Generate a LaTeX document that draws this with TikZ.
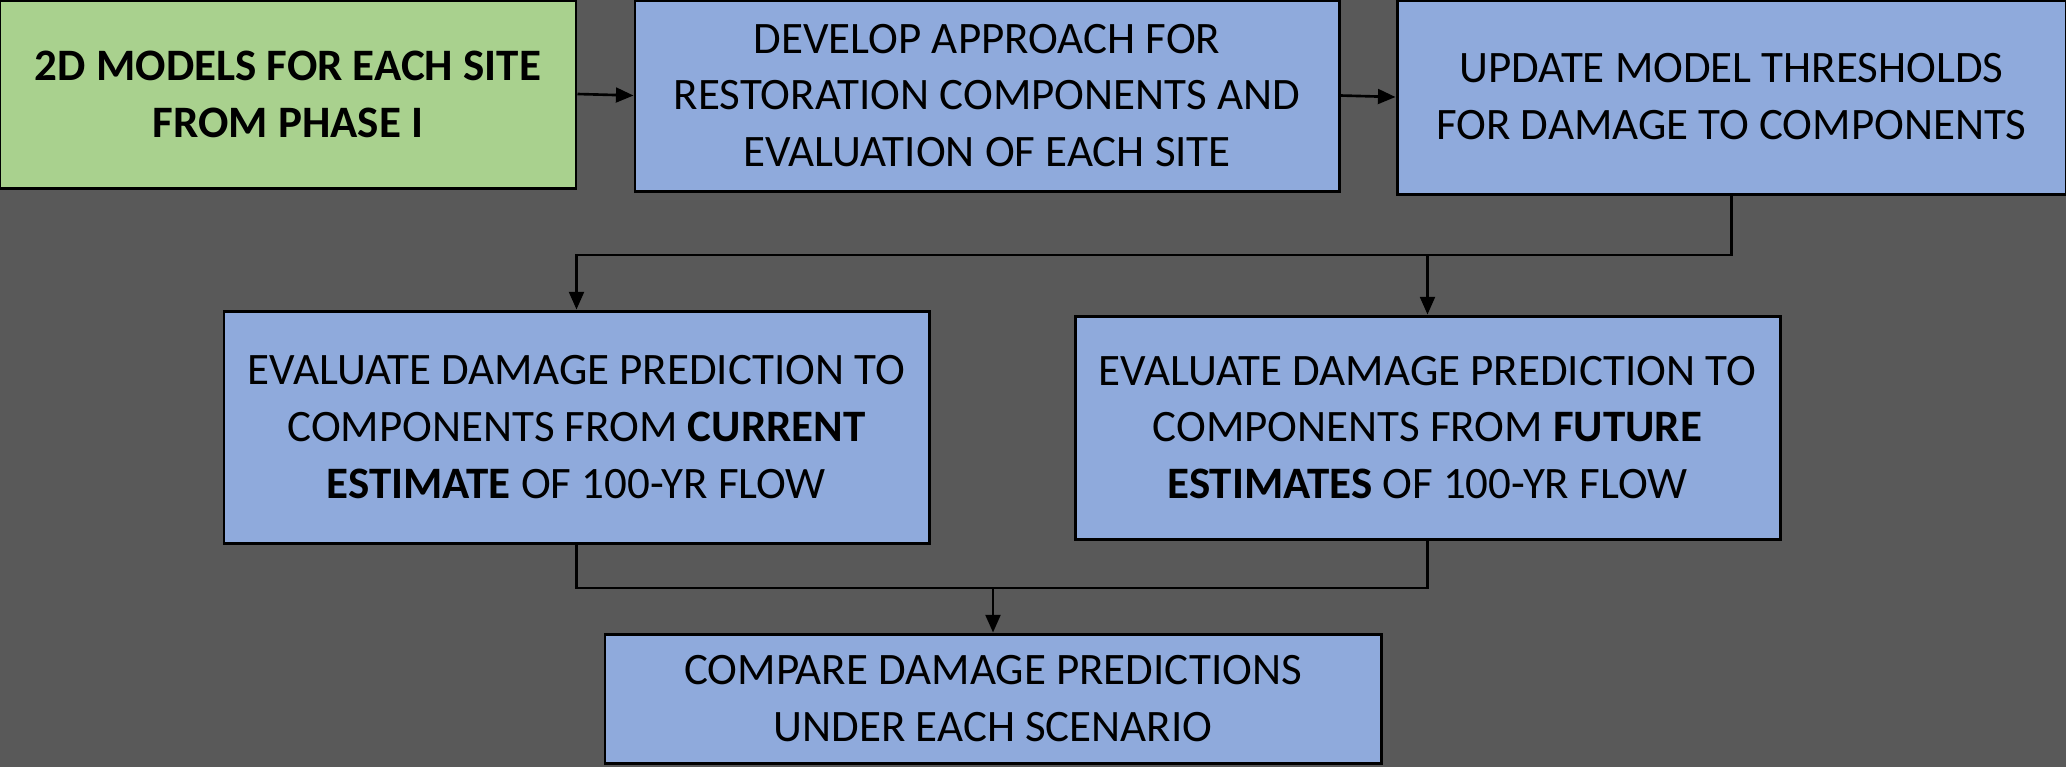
\documentclass[tikz,border=0pt]{standalone}
\usepackage{fontspec}
\setmainfont{Carlito}
\usepackage{xcolor}
\usepackage{tikz}
\usetikzlibrary{arrows.meta,calc}

\definecolor{bggray}{HTML}{595959}
\definecolor{boxgreen}{HTML}{A9D18E}
\definecolor{boxblue}{HTML}{8FAADC}

\begin{document}
\begin{tikzpicture}[x=1cm, y=1cm,
    box/.style={draw=black, line width=0.85pt, align=center, inner sep=0pt,
                font=\fontsize{12.8}{16.2}\selectfont},
    greenbox/.style={box, fill=boxgreen},
    bluebox/.style={box, fill=boxblue},
    flow/.style={-{Triangle[length=5pt, width=4.2pt]}, line width=0.75pt}]

  %--- Background ----------------------------------------------------------
  \fill[bggray] (0,0) rectangle (20.66,-7.67);
  \useasboundingbox (0,0) rectangle (20.66,-7.67);

  %--- Top row -------------------------------------------------------------
  \node[greenbox, minimum width=5.76cm, minimum height=1.88cm] (models)
       at (2.88,-0.94) {\textbf{2D MODELS FOR EACH SITE}\\\textbf{FROM PHASE I}};
  \node[bluebox, minimum width=7.04cm, minimum height=1.91cm] (develop)
       at (9.87,-0.955) {DEVELOP APPROACH FOR\\RESTORATION COMPONENTS AND\\EVALUATION OF EACH SITE};
  \node[bluebox, minimum width=6.69cm, minimum height=1.94cm] (update)
       at (17.315,-0.97) {UPDATE MODEL THRESHOLDS\\FOR DAMAGE TO COMPONENTS};

  %--- Middle row ----------------------------------------------------------
  \node[bluebox, minimum width=7.05cm, minimum height=2.32cm] (current)
       at (5.765,-4.27) {EVALUATE DAMAGE PREDICTION TO\\COMPONENTS FROM \textbf{CURRENT}\\\textbf{ESTIMATE} OF 100-YR FLOW};
  \node[bluebox, minimum width=7.05cm, minimum height=2.23cm] (future)
       at (14.275,-4.275) {EVALUATE DAMAGE PREDICTION TO\\COMPONENTS FROM \textbf{FUTURE}\\\textbf{ESTIMATES} OF 100-YR FLOW};

  %--- Bottom row ----------------------------------------------------------
  \node[bluebox, minimum width=7.76cm, minimum height=1.29cm] (compare)
       at (9.93,-6.985) {COMPARE DAMAGE PREDICTIONS\\UNDER EACH SCENARIO};

  %--- Connectors ----------------------------------------------------------
  \coordinate (split) at (17.315,-2.55);
  \coordinate (merge) at (9.93,-5.88);

  \draw[flow] (models.east) -- (develop.west);
  \draw[flow] (develop.east) -- (update.west);

  \draw[flow] (update.south) -- (split) -| (current.north);
  \draw[flow] (future.north |- split) -- (future.north);

  \draw[line width=0.75pt] (current.south) |- (merge) -| (future.south);
  \draw[flow] (merge) -- (compare.north);

\end{tikzpicture}
\end{document}
